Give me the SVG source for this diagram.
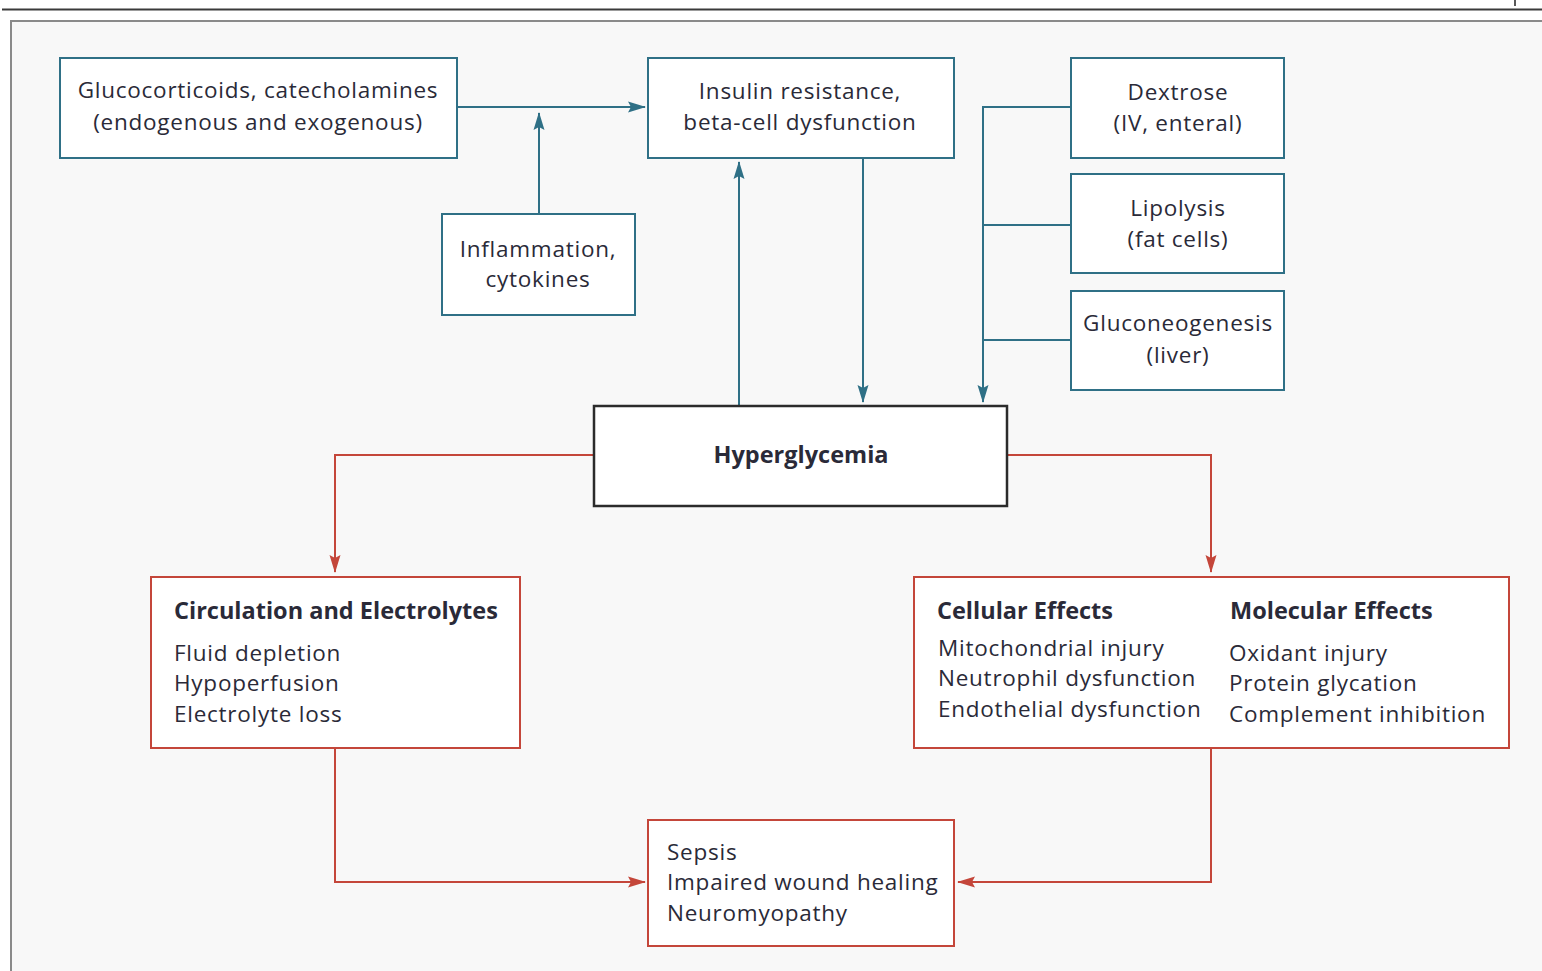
<svg xmlns="http://www.w3.org/2000/svg" width="1542" height="971" viewBox="0 0 1542 971">
<style>
.bg{fill:#ffffff}
.frame{fill:#f8f8f8;stroke:#8a8a8a;stroke-width:2}
.tb{fill:#ffffff;stroke:#2f7086;stroke-width:2}
.rb{fill:#ffffff;stroke:#c4463a;stroke-width:2}
.kb{fill:#ffffff;stroke:#2b2b2b;stroke-width:2.5}
.t{font-family:"Open Sans",Lato,sans-serif;font-size:22.5px;letter-spacing:0.75px;fill:#2a2a38}
.h{font-size:23.5px;font-weight:bold;letter-spacing:0}
.c{text-anchor:middle}
.tl{fill:none;stroke:#2f7086;stroke-width:2}
.rl{fill:none;stroke:#c4463a;stroke-width:2}
</style>
<defs>
<marker id="at" markerWidth="18" markerHeight="12" refX="17" refY="6" orient="auto" markerUnits="userSpaceOnUse"><path d="M0,0.5 L18,6 L0,11.5 L3,6 Z" fill="#2f7086"/></marker>
<marker id="ar" markerWidth="18" markerHeight="12" refX="17" refY="6" orient="auto" markerUnits="userSpaceOnUse"><path d="M0,0.5 L18,6 L0,11.5 L3,6 Z" fill="#c4463a"/></marker>
</defs>
<rect class="bg" x="0" y="0" width="1542" height="971"/>
<line x1="2" y1="9.5" x2="1542" y2="9.5" stroke="#3a3a3a" stroke-width="2"/>
<line x1="1515" y1="0" x2="1515" y2="6" stroke="#222" stroke-width="1.5"/>
<rect class="frame" x="11" y="21" width="1545" height="970"/>

<g id="connectors">
<line class="tl" x1="457" y1="107" x2="645" y2="107" marker-end="url(#at)"/>
<line class="tl" x1="539" y1="214" x2="539" y2="113" marker-end="url(#at)"/>
<line class="tl" x1="739" y1="406" x2="739" y2="162" marker-end="url(#at)"/>
<line class="tl" x1="863" y1="158" x2="863" y2="402" marker-end="url(#at)"/>
<polyline class="tl" points="1071,107 983,107 983,402" marker-end="url(#at)"/>
<line class="tl" x1="983" y1="225" x2="1071" y2="225"/>
<line class="tl" x1="983" y1="340" x2="1071" y2="340"/>
<polyline class="rl" points="594,455 335,455 335,572" marker-end="url(#ar)"/>
<polyline class="rl" points="1007,455 1211,455 1211,572" marker-end="url(#ar)"/>
<polyline class="rl" points="335,748 335,882 645,882" marker-end="url(#ar)"/>
<polyline class="rl" points="1211,748 1211,882 958,882" marker-end="url(#ar)"/>
</g>

<g id="glucocorticoids">
<rect class="tb" x="60" y="58" width="397" height="100"/>
<text class="t c" x="258" y="98">Glucocorticoids, catecholamines</text>
<text class="t c" x="258" y="130">(endogenous and exogenous)</text>
</g>
<g id="insulin">
<rect class="tb" x="648" y="58" width="306" height="100"/>
<text class="t c" x="800" y="99">Insulin resistance,</text>
<text class="t c" x="800" y="130">beta-cell dysfunction</text>
</g>
<g id="inflammation">
<rect class="tb" x="442" y="214" width="193" height="101"/>
<text class="t c" x="538" y="257">Inflammation,</text>
<text class="t c" x="538" y="287">cytokines</text>
</g>
<g id="dextrose">
<rect class="tb" x="1071" y="58" width="213" height="100"/>
<text class="t c" x="1178" y="100">Dextrose</text>
<text class="t c" x="1178" y="131">(IV, enteral)</text>
</g>
<g id="lipolysis">
<rect class="tb" x="1071" y="174" width="213" height="99"/>
<text class="t c" x="1178" y="216">Lipolysis</text>
<text class="t c" x="1178" y="247">(fat cells)</text>
</g>
<g id="gluconeogenesis">
<rect class="tb" x="1071" y="291" width="213" height="99"/>
<text class="t c" x="1178" y="331">Gluconeogenesis</text>
<text class="t c" x="1178" y="363">(liver)</text>
</g>
<g id="hyperglycemia">
<rect class="kb" x="594" y="406" width="413" height="100"/>
<text class="t c h" x="801" y="463">Hyperglycemia</text>
</g>
<g id="circulation">
<rect class="rb" x="151" y="577" width="369" height="171"/>
<text class="t h" x="174" y="619">Circulation and Electrolytes</text>
<text class="t" x="174" y="661">Fluid depletion</text>
<text class="t" x="174" y="691">Hypoperfusion</text>
<text class="t" x="174" y="722">Electrolyte loss</text>
</g>
<g id="effects">
<rect class="rb" x="914" y="577" width="595" height="171"/>
<text class="t h" x="937" y="619">Cellular Effects</text>
<text class="t" x="938" y="656">Mitochondrial injury</text>
<text class="t" x="938" y="686">Neutrophil dysfunction</text>
<text class="t" x="938" y="717">Endothelial dysfunction</text>
<text class="t h" x="1230" y="619">Molecular Effects</text>
<text class="t" x="1229" y="661">Oxidant injury</text>
<text class="t" x="1229" y="691">Protein glycation</text>
<text class="t" x="1229" y="722">Complement inhibition</text>
</g>
<g id="outcomes">
<rect class="rb" x="648" y="820" width="306" height="126"/>
<text class="t" x="667" y="860">Sepsis</text>
<text class="t" x="667" y="890">Impaired wound healing</text>
<text class="t" x="667" y="921">Neuromyopathy</text>
</g>
</svg>
